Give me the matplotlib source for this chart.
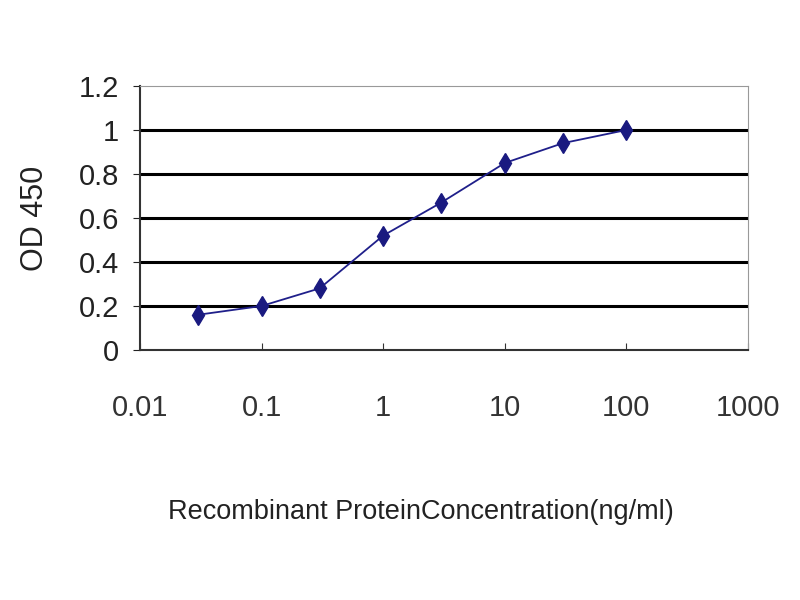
import matplotlib.pyplot as plt
from matplotlib.ticker import FixedLocator, NullLocator

# concentration (ng/ml) and OD 450 readings
conc = [0.03, 0.1, 0.3, 1, 3, 10, 30, 100]
od450 = [0.16, 0.20, 0.28, 0.52, 0.67, 0.85, 0.94, 1.00]
x_ticks = [0.01, 0.1, 1, 10, 100, 1000]
x_tick_labels = ['0.01', '0.1', '1', '10', '100', '1000']
y_ticks = [0, 0.2, 0.4, 0.6, 0.8, 1, 1.2]
y_tick_labels = ['0', '0.2', '0.4', '0.6', '0.8', '1', '1.2']

plt.rcParams['font.family'] = ['Liberation Sans', 'DejaVu Sans']

fig = plt.figure(figsize=(8, 6), dpi=100)
ax = fig.add_axes([0.175, 0.4167, 0.76, 0.44])

ax.plot(conc, od450, color='#1f1f8a', linewidth=1.3, marker='d',
        markersize=10, markerfacecolor='#1a1a80', markeredgecolor='#1a1a80')

ax.set_xscale('log')
ax.set_xlim(0.01, 1000)
ax.set_ylim(0, 1.2)
ax.xaxis.set_major_locator(FixedLocator(x_ticks))
ax.xaxis.set_minor_locator(NullLocator())
ax.set_xticklabels(x_tick_labels)
ax.set_yticks(y_ticks)
ax.set_yticklabels(y_tick_labels)

# horizontal grid lines only
for y in y_ticks[1:-1]:
    ax.axhline(y, color='black', linewidth=2.2, zorder=0)

for side in ['top', 'right']:
    ax.spines[side].set_color('#999999')
for side in ['left', 'bottom']:
    ax.spines[side].set_color('#333333')
    ax.spines[side].set_linewidth(1.5)

ax.tick_params(axis='x', direction='in', length=5, pad=32, labelsize=21, colors='#222222')
ax.tick_params(axis='y', direction='out', length=5, pad=10, labelsize=21, colors='#222222')
ax.tick_params(axis='x', colors='#333333')

ax.set_ylabel('OD 450', fontsize=22, color='#222222', va='center')
ax.yaxis.set_label_coords(-0.173, 0.5)
ax.set_xlabel('Recombinant ProteinConcentration(ng/ml)', fontsize=19.5,
              color='#222222', va='center')
ax.xaxis.set_label_coords(0.462, -0.614)

fig.savefig('out.png', dpi=100)
